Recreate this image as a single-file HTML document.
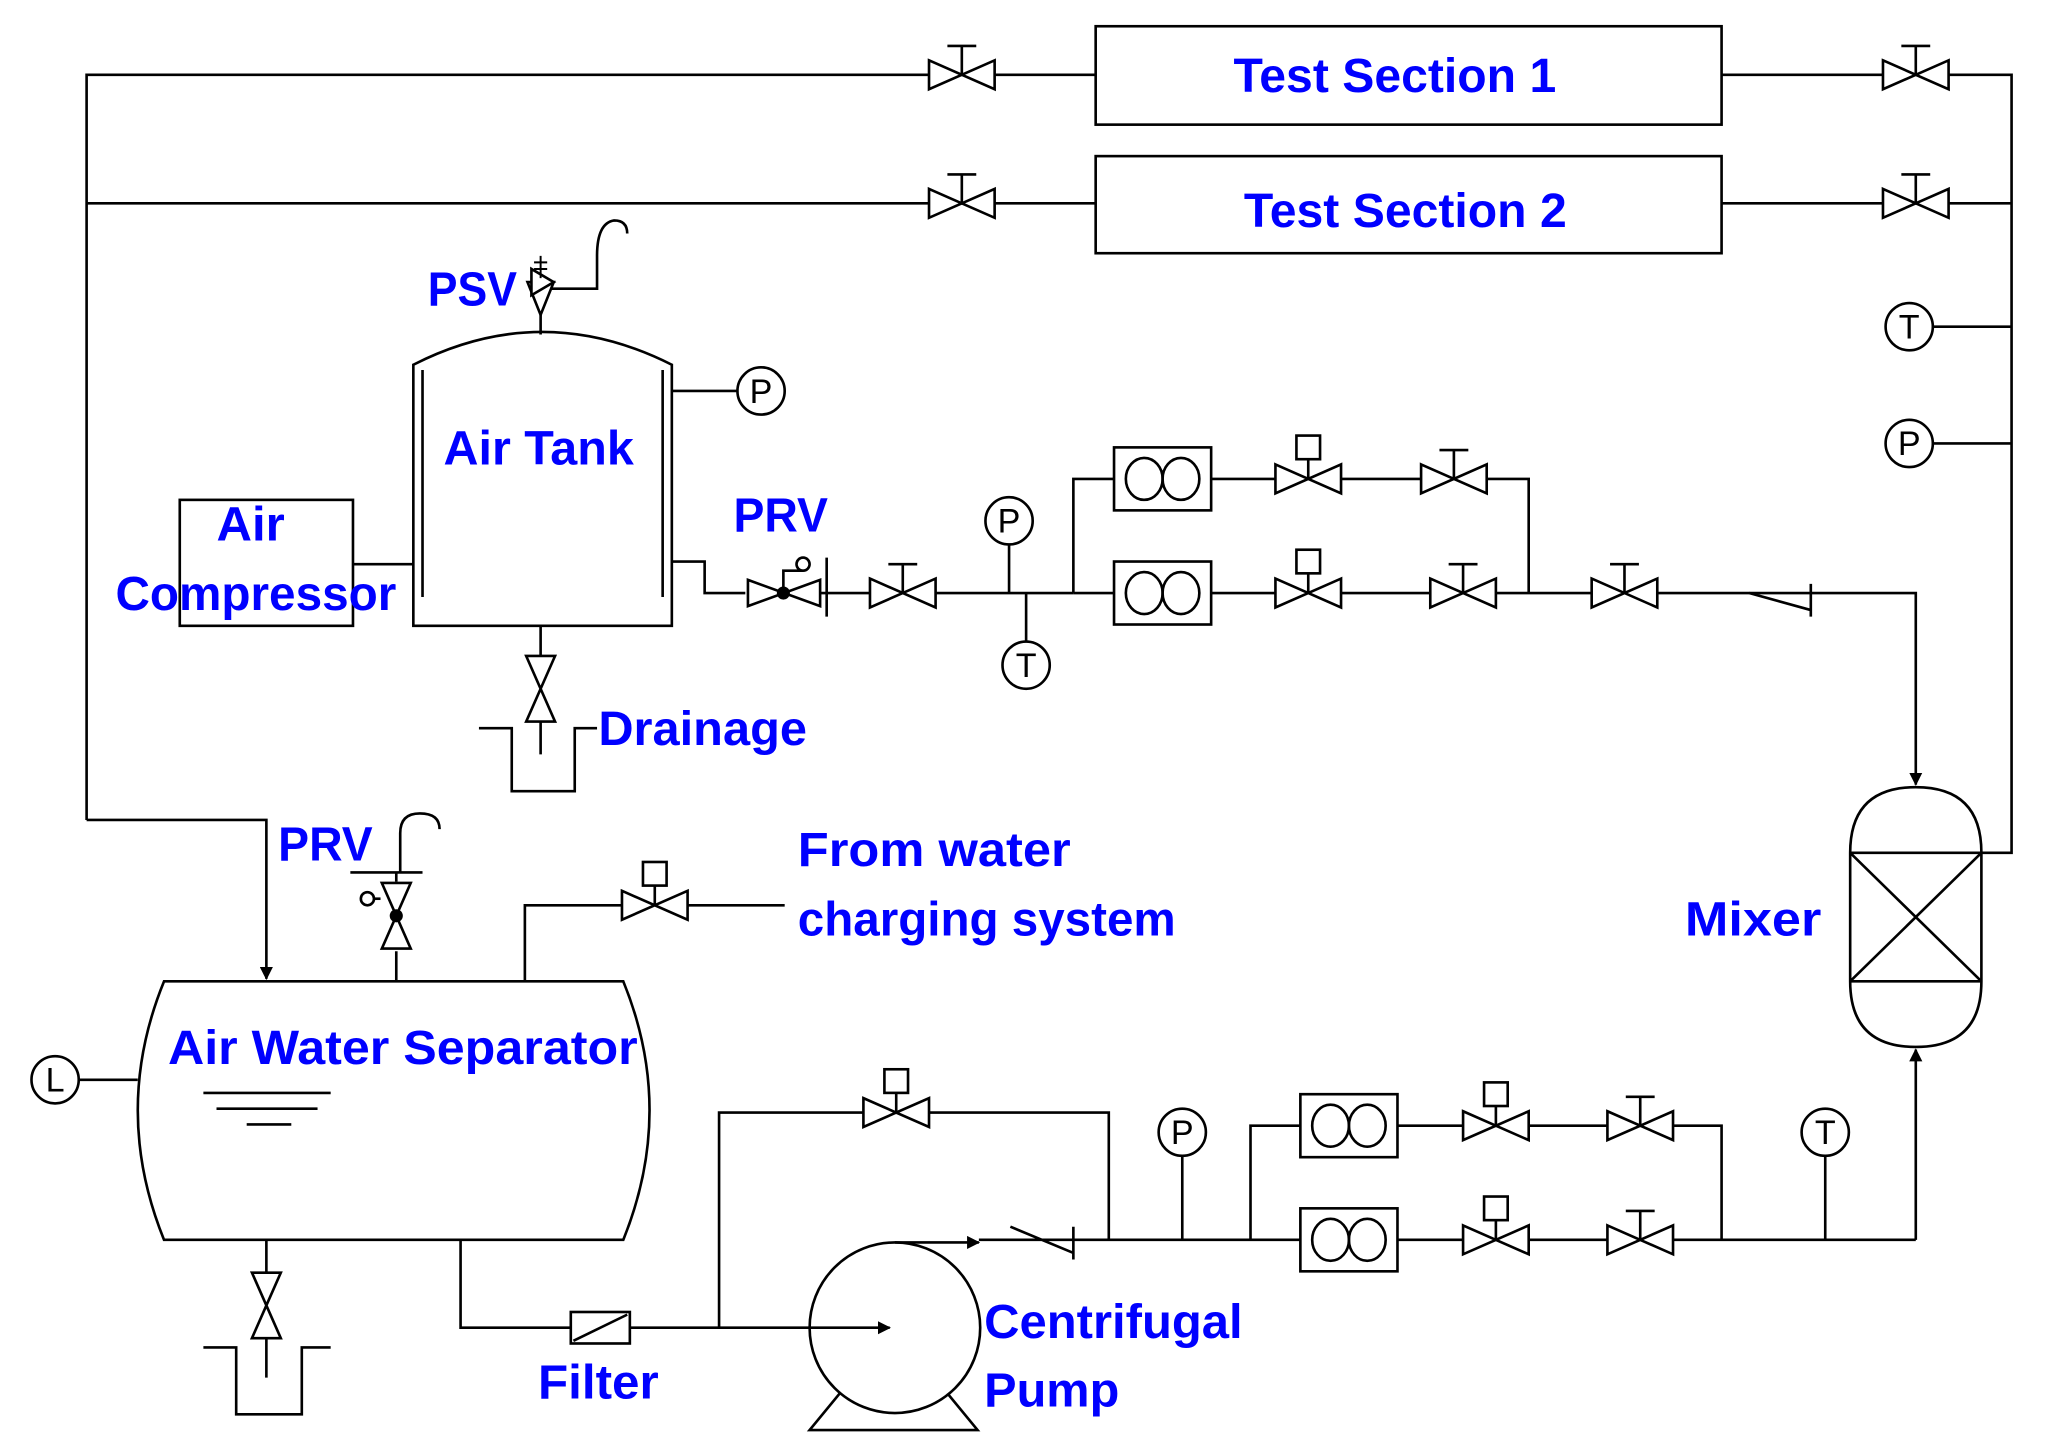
<!DOCTYPE html>
<html><head><meta charset="utf-8"><style>
html,body{margin:0;padding:0;background:#fff}
svg{display:block}
.t{font-family:"Liberation Sans Narrow","Liberation Sans",sans-serif;font-weight:bold;fill:#0000ff;font-size:37px}
.g{font-family:"Liberation Sans Narrow","Liberation Sans",sans-serif;font-size:26px;fill:#000}
</style></head><body>
<svg width="2047" height="1455" viewBox="0 0 1560 1109" preserveAspectRatio="none" xmlns="http://www.w3.org/2000/svg">
<defs>
<g id="v"><path d="M-25,-11 L25,11 L25,-11 L-25,11Z" fill="#fff" stroke="#000" stroke-width="2"/><path d="M0,0V-22M-11,-22H11" stroke="#000" stroke-width="2" fill="none"/></g>
<g id="av"><path d="M-25,-11 L25,11 L25,-11 L-25,11Z" fill="#fff" stroke="#000" stroke-width="2"/><path d="M0,0V-15" stroke="#000" stroke-width="2"/><rect x="-9" y="-33" width="18" height="18" fill="#fff" stroke="#000" stroke-width="2"/></g>
<g id="vv"><path d="M-11,-25 L11,25 L-11,25 L11,-25Z" fill="#fff" stroke="#000" stroke-width="2"/></g>
<g id="fm"><rect x="-37" y="-24" width="74" height="48" fill="#fff" stroke="#000" stroke-width="2"/><ellipse cx="-14" cy="0" rx="14" ry="16" fill="none" stroke="#000" stroke-width="2"/><ellipse cx="14" cy="0" rx="14" ry="16" fill="none" stroke="#000" stroke-width="2"/></g>
<marker id="ar" markerWidth="10" markerHeight="10" refX="9" refY="5" orient="auto" markerUnits="userSpaceOnUse"><path d="M0,0L10,5L0,10Z" fill="#000"/></marker>
</defs>
<g stroke="#000" stroke-width="2" fill="none">
<!-- top lines -->
<path d="M66,625V57H835M1312,57H1533V650H1508"/>
<path d="M66,155H835M1312,155H1533"/>
<rect x="835" y="20" width="477" height="75"/>
<rect x="835" y="119" width="477" height="74"/>
<path d="M1473,249H1533M1473,338H1533"/>
<path d="M66,625H203V746" marker-end="url(#ar)"/>
<!-- air tank -->
<path d="M315,477V278Q413,228 512,278V477Z"/>
<path d="M322,282V455M505,282V455"/>
<path d="M412,255V240M412,227V212"/>
<path d="M419,220H455V195Q455,170 468,168Q478,168 478,178"/>
<path d="M512,298H562"/>
<rect x="137" y="381" width="132" height="96"/>
<path d="M269,430H315"/>
<path d="M512,428H537V452H568M625,452H818M630,425V470"/>
<path d="M769,415V452M782,452V489"/>
<path d="M818,452V365H850M923,365H1165V452M818,452H850M923,452H1460V598" marker-end="url(#ar)"/>
<path d="M1333,452L1380,465M1380,445V470"/>
<!-- mixer -->
<path d="M1410,650V748Q1410,798 1460,798Q1510,798 1510,748V650Q1510,600 1460,600Q1410,600 1410,650Z"/>
<path d="M1410,650H1510M1410,748H1510M1410,650L1510,748M1510,650L1410,748"/>
<path d="M1460,945V800" marker-end="url(#ar)"/>
<!-- drainage -->
<path d="M412,477V500M412,550V575M365,555H390V603H438V555H455"/>
<!-- separator -->
<path d="M125,748H475Q515,846 475,945H125Q85,846 125,748Z"/>
<path d="M105,823H60M155,833H252M165,845H242M188,857H222"/>
<path d="M302,748V725M302,672V665M267,665H322M305,665V635Q305,620 320,620Q335,620 335,632"/>
<path d="M290,685H280"/>
<path d="M400,748V690H474M524,690H598"/>
<path d="M203,945V970M203,1020V1050M155,1027H180V1078H230V1027H252"/>
<path d="M351,945V1012H435M480,1012H678" marker-end="url(#ar)"/>
<path d="M548,1012V848H845V945"/>
<circle cx="682" cy="1012" r="65"/>
<path d="M640,1062L617,1090H745L722,1062"/>
<path d="M682,947H746" marker-end="url(#ar)"/>
<path d="M746,945H1460M770,935L818,955M818,935V960"/>
<path d="M901,881V945M1391,881V945"/>
<path d="M953,945V858H1312V945"/>
<rect x="435" y="1000" width="45" height="24" fill="#fff"/>
<path d="M437,1022L478,1002"/>
</g>
<!-- valves -->
<use href="#v" x="733" y="57"/><use href="#v" x="1460" y="57"/>
<use href="#v" x="733" y="155"/><use href="#v" x="1460" y="155"/>
<use href="#v" x="688" y="452"/>
<use href="#av" x="997" y="365"/><use href="#v" x="1108" y="365"/>
<use href="#av" x="997" y="452"/><use href="#v" x="1115" y="452"/>
<use href="#v" x="1238" y="452"/>
<use href="#fm" x="886" y="365"/><use href="#fm" x="886" y="452"/>
<use href="#vv" x="412" y="525"/>
<use href="#vv" x="203" y="995"/>
<use href="#vv" x="302" y="698"/>
<use href="#av" x="499" y="690"/>
<use href="#av" x="683" y="848"/>
<use href="#fm" x="1028" y="858"/><use href="#fm" x="1028" y="945"/>
<use href="#av" x="1140" y="858"/><use href="#v" x="1250" y="858"/>
<use href="#av" x="1140" y="945"/><use href="#v" x="1250" y="945"/>
<!-- PRV air -->
<g stroke="#000" stroke-width="2" fill="#fff">
<path d="M570,442L625,462L625,442L570,462Z"/>
<path d="M597,452V435H612" fill="none"/><circle cx="612" cy="430" r="5"/>
</g>
<circle cx="597" cy="452" r="5" fill="#000"/>
<circle cx="302" cy="698" r="5" fill="#000"/>
<circle cx="280" cy="685" r="5" fill="#fff" stroke="#000" stroke-width="2"/>
<!-- PSV -->
<path d="M412,240L402,215L422,215Z" fill="#fff" stroke="#000" stroke-width="2"/>
<path d="M422,215L405,205L405,225Z" fill="#fff" stroke="#000" stroke-width="2"/>
<path d="M412,212V195M407,200H417M407,205H417" stroke="#000" stroke-width="1.5"/>
<!-- gauges -->
<g stroke="#000" stroke-width="2" fill="#fff">
<circle cx="1455" cy="249" r="18"/><circle cx="1455" cy="338" r="18"/>
<circle cx="580" cy="298" r="18"/><circle cx="769" cy="397" r="18"/>
<circle cx="782" cy="507" r="18"/><circle cx="42" cy="823" r="18"/>
<circle cx="901" cy="863" r="18"/><circle cx="1391" cy="863" r="18"/>
</g>
<g class="g" text-anchor="middle">
<text x="1455" y="258">T</text><text x="1455" y="347">P</text>
<text x="580" y="307">P</text><text x="769" y="406">P</text>
<text x="782" y="516">T</text><text x="42" y="832">L</text>
<text x="901" y="872">P</text><text x="1391" y="872">T</text>
</g>
<!-- labels -->
<g class="t">
<text x="940" y="70" textLength="246" lengthAdjust="spacingAndGlyphs">Test Section 1</text>
<text x="948" y="173" textLength="246" lengthAdjust="spacingAndGlyphs">Test Section 2</text>
<text x="326" y="233" textLength="68" lengthAdjust="spacingAndGlyphs">PSV</text>
<text x="338" y="354" textLength="145" lengthAdjust="spacingAndGlyphs">Air Tank</text>
<text x="165" y="412" textLength="52" lengthAdjust="spacingAndGlyphs">Air</text>
<text x="88" y="465" textLength="214" lengthAdjust="spacingAndGlyphs">Compressor</text>
<text x="559" y="405" textLength="72" lengthAdjust="spacingAndGlyphs">PRV</text>
<text x="456" y="568" textLength="159" lengthAdjust="spacingAndGlyphs">Drainage</text>
<text x="212" y="656" textLength="72" lengthAdjust="spacingAndGlyphs">PRV</text>
<text x="608" y="660" textLength="208" lengthAdjust="spacingAndGlyphs">From water</text>
<text x="608" y="713" textLength="288" lengthAdjust="spacingAndGlyphs">charging system</text>
<text x="1284" y="713" textLength="104" lengthAdjust="spacingAndGlyphs">Mixer</text>
<text x="128" y="811" textLength="358" lengthAdjust="spacingAndGlyphs">Air Water Separator</text>
<text x="750" y="1020" textLength="197" lengthAdjust="spacingAndGlyphs">Centrifugal</text>
<text x="750" y="1072" textLength="103" lengthAdjust="spacingAndGlyphs">Pump</text>
<text x="410" y="1066" textLength="92" lengthAdjust="spacingAndGlyphs">Filter</text>
</g>
</svg>
</body></html>
